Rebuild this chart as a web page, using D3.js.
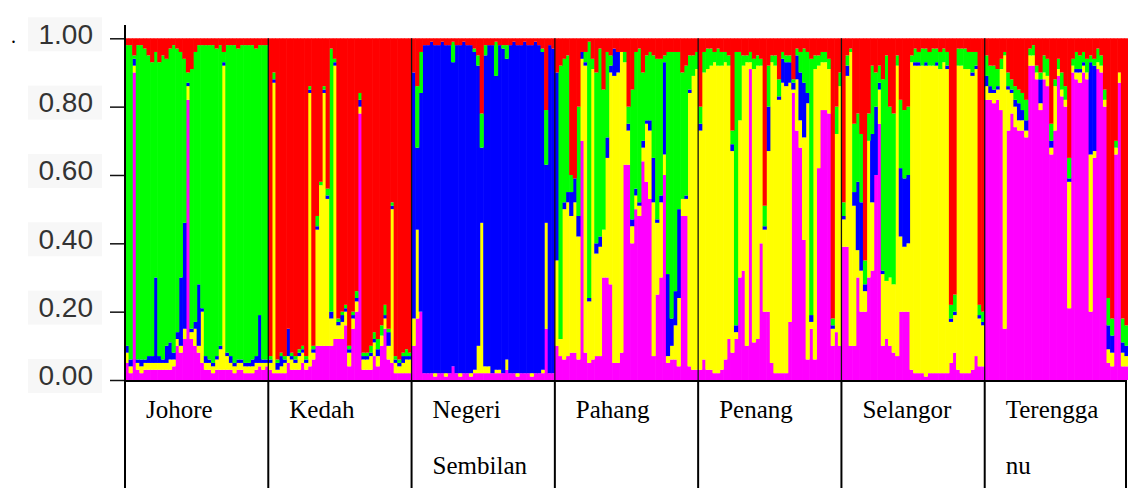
<!DOCTYPE html>
<html>
<head>
<meta charset="utf-8">
<script src="https://cdn.jsdelivr.net/npm/d3@7"></script>
<style>
  body { margin: 0; background: #fff; }
  svg { display: block; }
</style>
</head>
<body>
<svg width="1128" height="488"></svg>
<script>
// populations and the label lines shown in the table under the plot
var pops = ["Johore", "Kedah", "Negeri Sembilan", "Pahang", "Penang", "Selangor", "Terengganu"];
var popLines = [["Johore"], ["Kedah"], ["Negeri", "Sembilan"], ["Pahang"], ["Penang"], ["Selangor"], ["Terengga", "nu"]];

// cluster colours, cluster 1 at the top of each bar
var clusterColors = ["#ff0000", "#00ff00", "#0000ff", "#ffff00", "#ff00ff"];
var yTicks = [0, 0.2, 0.4, 0.6, 0.8, 1.0];

// membership per individual: [red, green, blue, yellow, magenta] (%)
var johore = [
  [2,88,2,3,5],[2,92,2,2,2],[5,1,2,2,90],[2,92,1,2,3],[2,92,2,2,2],[3,91,1,2,3],[5,88,2,2,3],[7,86,2,2,3],
  [4,66,25,2,3],[7,86,2,2,3],[5,89,1,2,3],[6,84,5,2,3],[3,86,5,3,3],[2,90,2,2,4],[3,83,2,2,10],[4,66,20,2,8],
  [6,48,31,3,12],[10,3,1,4,82],[9,76,1,2,12],[4,79,2,5,10],[2,70,18,2,8],[2,77,1,15,5],[2,91,2,2,3],[2,92,1,2,3],
  [2,93,1,2,2],[3,90,1,3,3],[2,88,1,6,3],[4,3,1,89,3],[2,90,1,4,3],[2,91,2,2,3],[2,93,1,2,2],[3,91,1,2,3],
  [2,92,1,2,3],[2,93,1,2,2],[2,93,1,2,2],[2,92,2,2,2],[3,90,2,2,3],[2,79,14,1,4],[2,92,1,2,3],[2,92,1,1,4]
];
var kedah = [
  [93,1,1,2,3],[10,2,1,85,2],[94,1,2,1,2],[92,1,3,2,2],[93,1,1,3,2],[85,0,8,2,5],[92,1,1,3,3],[93,1,1,2,3],
  [91,1,1,4,3],[90,1,1,3,5],[93,1,1,2,3],[14,1,1,80,4],[90,1,1,2,6],[52,3,1,34,10],[42,1,0,47,10],[14,1,1,74,10],
  [44,2,1,43,10],[3,77,2,8,10],[6,1,1,80,12],[82,1,1,4,12],[80,1,2,5,12],[78,1,1,4,16],[90,1,1,4,4],[80,1,1,3,15],
  [74,2,1,3,20],[16,2,2,2,78],[92,1,1,3,3],[92,1,1,3,3],[90,2,1,4,3],[86,2,1,4,7],[88,3,2,3,4],[84,3,0,3,10],
  [78,3,1,3,15],[85,1,4,4,6],[48,1,1,45,5],[93,1,1,3,2],[94,1,1,2,2],[92,1,2,3,2],[91,2,1,4,2],[92,1,1,4,2]
];
var negeri = [
  [10,0,72,8,10],[14,18,24,26,18],[4,12,64,0,20],[2,0,96,0,2],[2,0,96,0,2],[1,0,97,0,2],[2,0,96,1,1],[2,0,96,0,2],
  [1,0,97,0,2],[2,0,96,1,1],[2,0,96,0,2],[1,6,89,0,4],[2,0,96,0,2],[2,0,96,1,1],[1,0,97,0,2],[2,0,96,0,2],
  [2,0,96,1,1],[3,1,93,1,2],[5,3,82,8,2],[22,10,22,44,2],[2,3,91,2,2],[2,0,94,2,2],[2,0,96,0,2],[1,10,86,1,2],
  [2,0,95,1,2],[2,1,95,0,2],[2,4,88,3,3],[2,0,96,0,2],[1,0,97,0,2],[2,0,96,1,1],[2,0,96,0,2],[1,0,97,0,2],
  [2,0,96,0,2],[2,0,96,1,1],[1,0,97,0,2],[2,0,96,0,2],[3,1,93,1,2],[21,16,17,31,15],[2,0,96,0,2],[3,0,95,0,2]
];
var pahang = [
  [10,0,55,25,10],[8,80,0,5,7],[6,42,2,44,6],[5,40,3,45,7],[40,5,7,40,8],[41,0,7,44,8],[20,32,6,36,6],[4,0,2,24,70],
  [4,3,1,84,8],[1,75,1,18,5],[6,3,0,85,6],[10,50,3,30,7],[3,55,3,32,7],[15,41,0,14,30],[4,25,6,35,30],[5,3,2,62,28],
  [3,0,8,84,5],[4,0,6,85,5],[4,0,0,88,8],[4,3,0,30,63],[20,5,2,10,63],[15,38,2,5,40],[4,40,2,4,50],[3,45,1,3,48],
  [10,20,2,4,64],[5,19,1,17,58],[4,20,3,20,53],[5,30,13,45,7],[6,47,1,21,25],[6,40,2,22,30],[5,2,27,6,60],[4,65,24,2,5],
  [4,78,8,4,6],[4,70,10,10,6],[4,46,26,20,4],[10,37,0,5,48],[8,38,1,5,48],[5,10,1,80,4],[5,6,0,86,3],[4,5,0,88,3]
];
var penang = [
  [20,5,2,70,3],[4,6,0,84,6],[3,6,0,88,3],[3,5,0,89,3],[4,3,0,91,2],[3,5,0,90,2],[4,4,0,89,3],[4,3,0,87,6],
  [5,3,0,80,12],[27,4,2,59,8],[4,80,2,2,12],[4,20,0,46,30],[5,3,0,60,32],[5,2,0,83,10],[4,3,0,2,91],[6,3,0,80,11],
  [5,3,0,80,12],[6,2,0,52,40],[49,6,1,24,20],[8,12,13,47,20],[5,2,0,88,5],[5,3,0,90,2],[12,5,1,80,2],[4,2,7,85,2],
  [5,2,7,84,2],[5,2,6,70,17],[12,1,2,1,84],[3,2,7,15,73],[4,6,14,8,68],[3,10,16,30,41],[4,12,3,75,6],[6,75,2,2,15],
  [5,4,0,85,6],[5,3,0,30,62],[4,3,0,14,79],[4,3,0,14,79],[6,3,0,13,78],[82,2,1,5,10],[20,8,0,58,14],[10,4,0,76,10]
];
var selangor = [
  [48,4,1,8,39],[5,3,3,50,39],[3,1,0,86,10],[25,20,4,41,10],[22,20,20,8,30],[28,20,20,12,20],[65,7,2,6,20],[22,8,0,40,30],
  [8,20,20,20,32],[10,10,20,0,60],[8,5,2,10,75],[12,56,1,21,10],[5,66,0,17,12],[20,50,0,20,10],[22,50,0,20,8],[5,3,0,85,7],
  [18,20,20,22,20],[21,20,20,19,20],[20,20,20,20,20],[5,2,0,90,3],[3,4,1,90,2],[4,3,1,90,2],[3,5,0,90,2],[3,4,1,91,1],
  [4,4,0,90,2],[3,5,0,90,2],[3,4,1,90,2],[4,5,0,89,2],[3,4,0,91,2],[4,4,1,89,2],[78,4,1,12,5],[75,5,1,11,8],
  [3,5,0,89,3],[3,5,0,90,2],[3,6,0,89,2],[4,5,0,89,2],[4,6,1,86,3],[4,4,1,84,7],[78,3,1,14,4],[80,3,1,12,4]
];
var terengganu = [
  [5,6,3,4,82],[8,6,2,2,82],[8,7,1,3,81],[9,5,1,3,82],[6,3,0,12,79],[4,1,0,80,15],[10,4,1,12,73],[12,3,1,6,78],
  [14,4,2,6,74],[15,4,5,3,73],[16,5,3,3,73],[18,6,3,2,71],[3,2,0,3,92],[2,3,0,3,92],[8,2,0,2,88],[10,2,7,2,79],
  [5,5,0,2,88],[6,5,0,3,86],[25,5,2,2,66],[12,2,0,13,73],[6,3,0,2,89],[10,5,0,2,83],[14,4,0,2,80],[35,6,1,37,21],
  [6,2,0,2,90],[4,5,1,2,88],[5,4,1,3,87],[4,3,1,2,90],[6,4,0,2,88],[5,2,27,46,20],[6,2,25,2,65],[3,4,0,2,91],
  [5,3,0,2,90],[15,3,0,2,80],[76,8,7,4,5],[82,5,5,4,4],[30,2,0,2,66],[10,0,0,3,87],[82,7,3,4,4],[84,6,3,3,4]
];
var popData = [johore, kedah, negeri, pahang, penang, selangor, terengganu];

var svg = d3.select("svg");
var plotLeft = 125, plotRight = 1128;
var plotTop = 38.3, plotBottom = 380;

var x = d3.scaleBand().domain(pops).range([plotLeft, plotRight]).paddingInner(0);
var y = d3.scaleLinear().domain([0, 1]).range([plotBottom, plotTop]);

// magenta at the bottom, red on top
var stack = d3.stack()
  .keys([4, 3, 2, 1, 0])
  .value(function(d, k) { return d[k]; })
  .offset(d3.stackOffsetExpand);

var bars = svg.append("g").attr("class", "bars");

pops.forEach(function(p, pi) {
  var rows = popData[pi];
  var xi = d3.scaleBand().domain(d3.range(rows.length)).range([x(p), x(p) + x.bandwidth()]);
  var layers = stack(rows);
  bars.append("g")
    .selectAll("g")
    .data(layers)
    .enter().append("g")
      .attr("fill", function(d) { return clusterColors[d.key]; })
    .selectAll("rect")
    .data(function(d) { return d; })
    .enter().append("rect")
      .attr("x", function(d, i) { return xi(i); })
      .attr("width", xi.bandwidth() + 0.6)
      .attr("y", function(d) { return y(d[1]); })
      .attr("height", function(d) { return y(d[0]) - y(d[1]); });
});

// thin separators between populations
svg.append("g")
  .selectAll("line")
  .data(pops.slice(1))
  .enter().append("line")
    .attr("x1", function(d) { return x(d); })
    .attr("x2", function(d) { return x(d); })
    .attr("y1", plotTop)
    .attr("y2", plotBottom)
    .attr("stroke", "#111")
    .attr("stroke-width", 1.3);

// y axis, labels sit on a faint grey patch
var labelBg = svg.append("g");
labelBg.selectAll("rect")
  .data(yTicks)
  .enter().append("rect")
    .attr("x", 28)
    .attr("y", function(d) { return y(d) - 21; })
    .attr("width", 74)
    .attr("height", 34)
    .attr("fill", "#f7f7f7");

var yAxis = svg.append("g")
  .attr("transform", "translate(" + plotLeft + ",0)")
  .call(d3.axisLeft(y).tickValues(yTicks).tickFormat(d3.format(".2f")).tickSize(15).tickSizeOuter(0).tickPadding(17));
yAxis.select(".domain").remove();
yAxis.selectAll("line").attr("stroke", "#111").attr("stroke-width", 1.5);
yAxis.selectAll("text")
  .attr("fill", "#333")
  .attr("y", -4)
  .style("font-family", "'Liberation Sans', Arial, sans-serif")
  .style("font-size", "28px");

svg.append("line")
  .attr("x1", plotLeft).attr("x2", plotLeft)
  .attr("y1", 25).attr("y2", plotBottom)
  .attr("stroke", "#000").attr("stroke-width", 2);

svg.append("text")
  .attr("x", 11).attr("y", 43)
  .style("font-family", "'Liberation Serif', serif")
  .style("font-size", "20px")
  .text(".");

// table of population names (no bottom rule)
var table = svg.append("g").attr("stroke", "#000").attr("stroke-width", 2);
table.append("line").attr("x1", plotLeft - 1).attr("x2", 1126).attr("y1", plotBottom + 1).attr("y2", plotBottom + 1);
table.selectAll(".col")
  .data(pops.map(function(p) { return x(p); }).concat([1126]))
  .enter().append("line")
    .attr("class", "col")
    .attr("x1", function(d) { return d; })
    .attr("x2", function(d) { return d; })
    .attr("y1", plotBottom)
    .attr("y2", 488);

var names = svg.append("g")
  .style("font-family", "'Liberation Serif', 'Times New Roman', serif")
  .style("font-size", "25px")
  .attr("fill", "#000");

pops.forEach(function(p, pi) {
  popLines[pi].forEach(function(line, li) {
    names.append("text")
      .attr("x", x(p) + 21)
      .attr("y", 418 + li * 56)
      .text(line);
  });
});
</script>
</body>
</html>
